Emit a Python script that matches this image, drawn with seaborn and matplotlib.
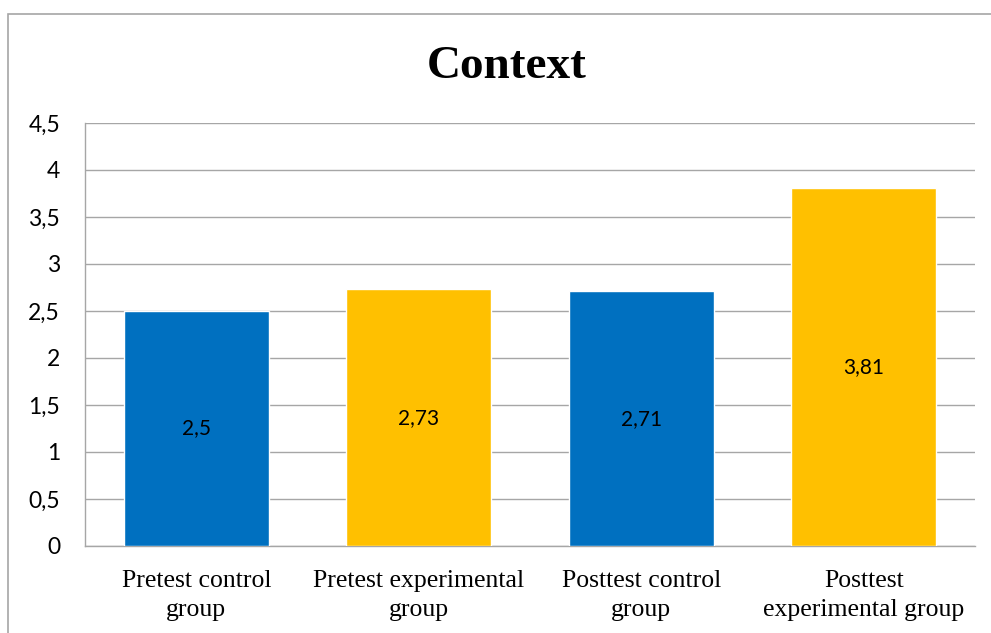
import matplotlib
matplotlib.use("Agg")
import matplotlib.pyplot as plt
from matplotlib.patches import Rectangle
import seaborn as sns
import pandas as pd

categories = ["Pretest control\ngroup", "Pretest experimental\ngroup",
              "Posttest control\ngroup", "Posttest\nexperimental group"]
values = [2.5, 2.73, 2.71, 3.81]
value_labels = ["2,5", "2,73", "2,71", "3,81"]
bar_colors = ["#0070C0", "#FFC000", "#0070C0", "#FFC000"]
yticks = [0, 0.5, 1, 1.5, 2, 2.5, 3, 3.5, 4, 4.5]
ytick_labels = ["0", "0,5", "1", "1,5", "2", "2,5", "3", "3,5", "4", "4,5"]

df = pd.DataFrame({"group": categories, "score": values})

sns.set_style("white")
plt.rcParams["text.color"] = "black"
plt.rcParams["xtick.color"] = "black"
plt.rcParams["ytick.color"] = "black"

fig = plt.figure(figsize=(9.91, 6.33), dpi=100)
ax = fig.add_axes([85 / 991, 1 - 546 / 633, 890 / 991, 423 / 633])

sns.barplot(data=df, x="group", y="score", hue="group", palette=bar_colors,
            legend=False, width=0.65, saturation=1, ax=ax, zorder=3)

ax.set_ylim(0, 4.5)
ax.set_xlim(-0.5, 3.5)
ax.set_yticks(yticks)
ax.set_yticklabels(ytick_labels, fontfamily="Lato", fontsize=16.5)
ax.set_xticks(range(len(categories)))
ax.set_xticklabels(categories, fontfamily="Liberation Serif", fontsize=18.5,
                   linespacing=1.4)
ax.set_xlabel("")
ax.set_ylabel("")
ax.tick_params(axis="y", length=0, pad=18, labelcolor="black")
ax.tick_params(axis="x", length=0, pad=17.5, labelcolor="black")
ax.yaxis.grid(True, color="#A6A6A6", linewidth=1, zorder=0)
ax.set_axisbelow(True)
for side in ["top", "right"]:
    ax.spines[side].set_visible(False)
for side in ["left", "bottom"]:
    ax.spines[side].set_color("#A6A6A6")
    ax.spines[side].set_linewidth(1)

for i, (v, lab) in enumerate(zip(values, value_labels)):
    ax.text(i, v / 2, lab, ha="center", va="center", fontfamily="Lato",
            fontsize=15, color="black", zorder=4)

fig.text(507 / 991, 1 - 67 / 633, "Context", ha="center", va="center",
         fontfamily="Liberation Serif", fontweight="bold", fontsize=34,
         color="black")

# outer chart frame (open to the right and bottom)
fig.add_artist(Rectangle((8 / 991, -0.1), 1.2, 1 - 14 / 633 + 0.1,
                         transform=fig.transFigure, fill=False,
                         edgecolor="#A6A6A6", linewidth=1.2))

fig.savefig("out.png", dpi=100)
